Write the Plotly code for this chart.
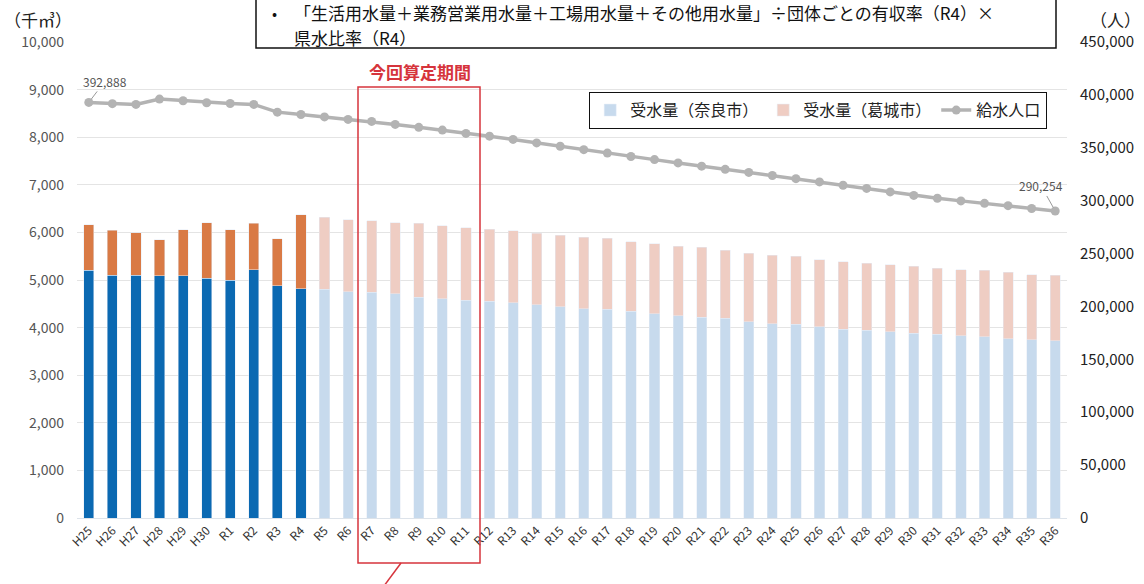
import plotly.graph_objects as go

categories = ["H25", "H26", "H27", "H28", "H29", "H30", "R1", "R2", "R3", "R4"] + [f"R{i}" for i in range(5, 37)]

nara = [5200, 5100, 5100, 5090, 5090, 5040, 5000, 5220, 4880, 4820,
        4810, 4755, 4740, 4715, 4640, 4605, 4570, 4555, 4525, 4485,
        4435, 4400, 4385, 4340, 4290, 4250, 4220, 4195, 4125, 4085,
        4070, 4015, 3970, 3940, 3915, 3885, 3860, 3830, 3805, 3765,
        3740, 3725]

katsuragi = [960, 950, 890, 760, 970, 1160, 1060, 970, 990, 1550,
             1510, 1515, 1510, 1485, 1550, 1535, 1530, 1515, 1515, 1500,
             1505, 1495, 1490, 1460, 1470, 1460, 1465, 1425, 1435, 1430,
             1425, 1415, 1410, 1410, 1410, 1400, 1390, 1385, 1395, 1395,
             1375, 1370]

population = [392888, 391700, 391000, 396000, 394500, 392600, 391900, 391000, 383700, 381500,
              379200, 376800, 374900, 372100, 369300, 366700, 363600, 361000, 357900, 354600,
              351400, 348200, 345000, 341800, 338800, 335700, 332600, 329600, 326700, 323800,
              320800, 317700, 314600, 311600, 308300, 305000, 302300, 299800, 297500, 295300,
              292600, 290254]

n_actual = 10  # H25..R4 are actual values

left_ticks = [0, 1000, 2000, 3000, 4000, 5000, 6000, 7000, 8000, 9000, 10000]
right_ticks = [0, 50000, 100000, 150000, 200000, 250000, 300000, 350000, 400000, 450000]

FONT = "Noto Sans CJK JP"
C_NARA = "#0b69b2"
C_KATS = "#d97a45"
C_NARA_F = "#c7daed"
C_KATS_F = "#efcdc3"
C_LINE = "#b3b3b3"
RED = "#d6343c"

L, R, T, B = 77, 77, 42, 66
W = 1144 - L - R
H = 584 - T - B


def px(x):
    return (x - L) / W


def py(y):
    return (584 - B - y) / H


fig = go.Figure()

fig.add_trace(go.Bar(x=categories[:n_actual], y=nara[:n_actual], marker_color=C_NARA,
                     showlegend=False, legendgroup="n", name="受水量（奈良市）"))
fig.add_trace(go.Bar(x=categories[n_actual:], y=nara[n_actual:], marker_color=C_NARA_F,
                     legendgroup="n", name="受水量（奈良市）"))
fig.add_trace(go.Bar(x=categories[:n_actual], y=katsuragi[:n_actual], marker_color=C_KATS,
                     showlegend=False, legendgroup="k", name="受水量（葛城市）"))
fig.add_trace(go.Bar(x=categories[n_actual:], y=katsuragi[n_actual:], marker_color=C_KATS_F,
                     legendgroup="k", name="受水量（葛城市）"))
fig.add_trace(go.Scatter(x=categories, y=population, yaxis="y2", mode="lines+markers",
                         line=dict(color=C_LINE, width=3.5),
                         marker=dict(color=C_LINE, size=9), name="給水人口"))

shapes = [
    # top note box
    dict(type="rect", xref="paper", yref="paper", x0=px(256), x1=px(1056), y0=py(48), y1=py(-10),
         line=dict(color="#111", width=1.5), fillcolor="white"),
    # calculation period box
    dict(type="rect", xref="paper", yref="paper", x0=px(358), x1=px(480), y0=py(563), y1=py(87),
         line=dict(color=RED, width=1.5)),
    dict(type="line", xref="paper", yref="paper", x0=px(401), x1=px(381), y0=py(563), y1=py(590),
         line=dict(color=RED, width=1.5)),
]

annotations = [
    dict(xref="paper", yref="paper", x=px(274), y=py(13), text="•", showarrow=False,
         font=dict(size=15, color="#111"), xanchor="center", yanchor="middle"),
    dict(xref="paper", yref="paper", x=px(292), y=py(13),
         text="「生活用水量＋業務営業用水量＋工場用水量＋その他用水量」÷団体ごとの有収率（R4）×",
         showarrow=False, font=dict(size=17, color="#111"), xanchor="left", yanchor="middle"),
    dict(xref="paper", yref="paper", x=px(292), y=py(37.5), text="県水比率（R4）",
         showarrow=False, font=dict(size=17, color="#111"), xanchor="left", yanchor="middle"),
    dict(xref="paper", yref="paper", x=px(2), y=py(20), text="（千㎥）", showarrow=False,
         font=dict(size=17, color="#222"), xanchor="left", yanchor="middle"),
    dict(xref="paper", yref="paper", x=px(1143), y=py(20), text="（人）", showarrow=False,
         font=dict(size=17, color="#222"), xanchor="right", yanchor="middle"),
    dict(xref="paper", yref="paper", x=px(420), y=py(71), text="<b>今回算定期間</b>", showarrow=False,
         font=dict(size=17, color=RED), xanchor="center", yanchor="middle"),
    dict(x=categories[0], y=population[0], yref="y2", text=f"{population[0]:,}",
         showarrow=True, arrowhead=0, arrowwidth=1, arrowcolor="#999", ax=16, ay=-21, standoff=4,
         font=dict(size=12, color="#555")),
    dict(x=categories[-1], y=population[-1], yref="y2", text=f"{population[-1]:,}",
         showarrow=True, arrowhead=0, arrowwidth=1, arrowcolor="#999", ax=-14, ay=-25, standoff=4,
         font=dict(size=12, color="#555")),
]

fig.update_layout(
    width=1144, height=584,
    margin=dict(l=L, r=R, t=T, b=B, autoexpand=False),
    paper_bgcolor="white", plot_bgcolor="white",
    font=dict(family=FONT, color="#333"),
    barmode="stack", bargap=0.57,
    xaxis=dict(type="category", categoryorder="array", categoryarray=categories,
               range=[-0.5, len(categories) - 0.5], tickangle=-45,
               tickfont=dict(size=12, color="#333"), showgrid=False,
               showline=True, linecolor="#dde3ea", linewidth=1, ticks="", automargin=False),
    yaxis=dict(range=[0, 10000], tickvals=left_ticks, tickformat=",",
               tickfont=dict(size=14, color="#555"), gridcolor="#e4e4e4", gridwidth=1,
               zeroline=False, ticks="", ticklabelstandoff=12, automargin=False),
    yaxis2=dict(range=[0, 450000], tickvals=right_ticks, tickformat=",", overlaying="y",
                side="right", showgrid=False, zeroline=False,
                tickfont=dict(size=15, color="#222"), ticks="", ticklabelstandoff=12,
                automargin=False),
    legend=dict(orientation="h", x=px(589), y=py(92), xanchor="left", yanchor="top",
                bordercolor="#111", borderwidth=1.2, bgcolor="white",
                font=dict(size=16, color="#222"), traceorder="normal"),
    shapes=shapes,
    annotations=annotations,
)

fig.write_html("out.html")
